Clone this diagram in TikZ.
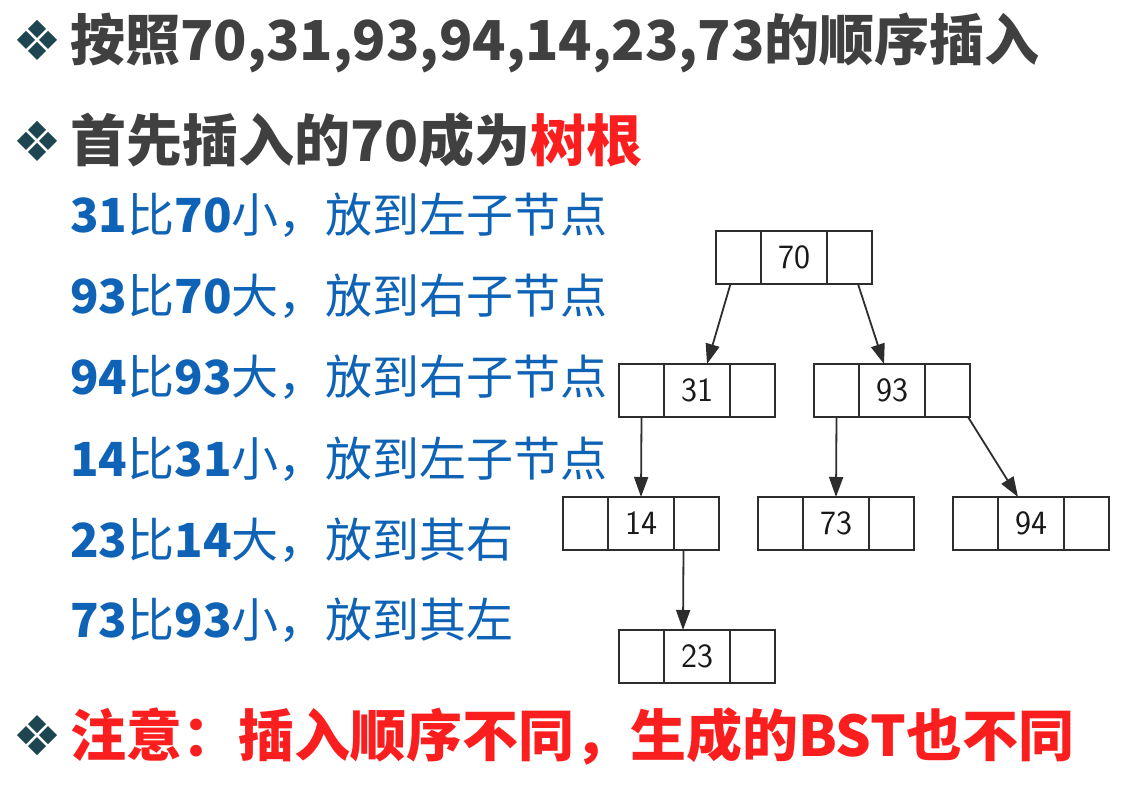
\documentclass[tikz,border=0pt]{standalone}
\usepackage{fontspec}
\newfontfamily\cjk{Noto Sans CJK SC}
\usetikzlibrary{arrows.meta}
\definecolor{titlegray}{RGB}{64,64,64}
\definecolor{hlred}{RGB}{250,30,30}
\definecolor{stepblue}{RGB}{14,99,182}
\definecolor{bulletc}{RGB}{30,70,80}
\definecolor{boxline}{RGB}{45,45,45}
\newcommand\bstnode[4]{%
  \node[cellbox, minimum width=45pt, anchor=north west] (#1-l) at (#2,#3) {};
  \node[cellbox, minimum width=66pt, anchor=north west] (#1) at (#1-l.north east) {#4};
  \node[cellbox, minimum width=45pt, anchor=north west] (#1-r) at (#1.north east) {};
}
\begin{document}
\begin{tikzpicture}[x=1pt,y=-1pt,
  cellbox/.style={draw=boxline, line width=1.7pt, minimum height=53pt, inner sep=0pt, outer sep=0pt,
     font=\sffamily\fontsize{34}{36}\selectfont, text=black!90},
  edge/.style={draw=boxline, line width=1.8pt, -{Triangle[length=20pt,width=14pt]}},
  bigtext/.style={anchor=base west, inner sep=0pt, font=\cjk\bfseries\fontsize{56}{62}\selectfont},
  steptext/.style={anchor=base west, inner sep=0pt, text=stepblue, font=\cjk\fontsize{47}{52}\selectfont},
  bulletmark/.pic={
    \foreach \dx/\dy in {0/-11,-11/0,11/0,0/11}
      \fill[bulletc] (\dx,\dy) +(0,-9) -- +(9,0) -- +(0,9) -- +(-9,0) -- cycle;
  }]
\useasboundingbox[fill=white] (0,0) rectangle (1141,799);

% bullets
\pic at (37,40) {bulletmark};
\pic at (37,141) {bulletmark};
\pic at (37,735) {bulletmark};

% headings
\node[bigtext, text=titlegray, font=\cjk\bfseries\fontsize{55}{60}\selectfont] (t1) at (70,61) {按照70,31,93,94,14,23,73的顺序插入};
\node[bigtext, text=titlegray] (t2) at (70,162) {首先插入的70成为\textcolor{hlred}{树根}};
\node[bigtext, text=hlred] (note) at (70,756) {注意：插入顺序不同，生成的BST也不同};

% steps
\node[steptext] (s1) at (70,233) {{\bfseries 31}比{\bfseries 70}小，放到左子节点};
\node[steptext] (s2) at (70,314) {{\bfseries 93}比{\bfseries 70}大，放到右子节点};
\node[steptext] (s3) at (70,395) {{\bfseries 94}比{\bfseries 93}大，放到右子节点};
\node[steptext] (s4) at (70,476) {{\bfseries 14}比{\bfseries 31}小，放到左子节点};
\node[steptext] (s5) at (70,557) {{\bfseries 23}比{\bfseries 14}大，放到其右};
\node[steptext] (s6) at (70,637) {{\bfseries 73}比{\bfseries 93}小，放到其左};

% tree
\bstnode{n70}{716}{231}{70}
\bstnode{n31}{619}{364}{31}
\bstnode{n93}{814}{364}{93}
\bstnode{n14}{563}{497}{14}
\bstnode{n73}{758}{497}{73}
\bstnode{n94}{953}{497}{94}
\bstnode{n23}{619}{630}{23}

\draw[edge] ([xshift=-8pt]n70-l.south) -- ([xshift=10pt]n31.north);
\draw[edge] ([xshift=8.5pt]n70-r.south) -- ([xshift=-8pt]n93.north);
\draw[edge] (n31-l.south) -- (n14.north);
\draw[edge] (n93-l.south) -- (n73.north);
\draw[edge] ([xshift=-2pt]n93-r.south east) -- ([xshift=-13pt]n94.north);
\draw[edge] ([xshift=-13pt]n14-r.south) -- ([xshift=-14pt]n23.north);
\end{tikzpicture}
\end{document}
